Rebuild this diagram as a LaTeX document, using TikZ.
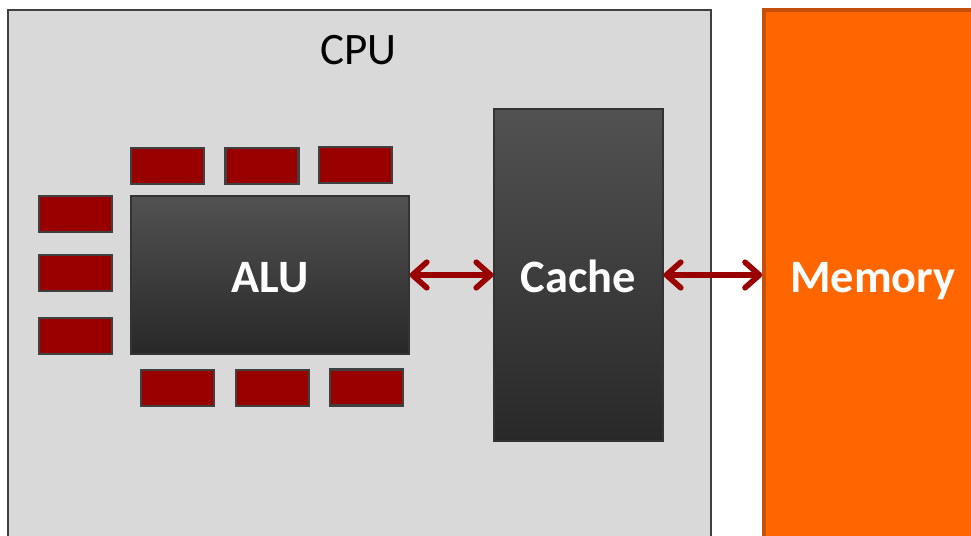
\documentclass[tikz,border=0pt]{standalone}
\usepackage{fontspec}
\setmainfont{Carlito}
\usetikzlibrary{arrows.meta}
\definecolor{chip}{RGB}{217,217,217}
\definecolor{edge}{RGB}{64,64,64}
\definecolor{regred}{RGB}{153,0,0}
\definecolor{mem}{RGB}{255,102,0}
\definecolor{memedge}{RGB}{197,80,10}
\definecolor{unittop}{RGB}{82,82,82}
\definecolor{unitbot}{RGB}{40,40,40}
\begin{document}
\begin{tikzpicture}[x=0.025cm,y=-0.025cm,font=\fontsize{32}{38}\selectfont]
\tikzset{regbox/.style={draw=edge,fill=regred,line width=1.5pt,inner sep=0pt,minimum width=1.825cm,minimum height=0.9cm},
  unit/.style={draw=black!80,line width=0.8pt,top color=unittop,bottom color=unitbot,text=white,font=\fontsize{33}{38}\selectfont\bfseries,inner sep=0pt,text height=25.5pt,text depth=0pt},
  arr/.style={{Straight Barb[length=3.6mm,width=6.4mm,line cap=round,line join=round]}-{Straight Barb[length=3.6mm,width=6.4mm,line cap=round,line join=round]},line width=4pt,draw=regred}}
\useasboundingbox (0,0) rectangle (971,536);
\node[draw=edge,fill=chip,line width=1.5pt,minimum width=17.575cm,minimum height=13.75cm] (cpu) at (359.5,285) {};
\node (cpulbl) at (358.5,50) {CPU};
\node[draw=memedge,fill=mem,line width=2.5pt,minimum width=5.45cm,minimum height=13.35cm,text=white,font=\fontsize{33}{38}\selectfont\bfseries,text depth=0pt] (mem) at (873,277) {Memory};
\node[unit,minimum width=6.95cm,minimum height=3.95cm] (alu) at (270,275) {ALU};
\node[unit,minimum width=4.225cm,minimum height=8.3cm] (cache) at (578.5,275) {Cache};
% registers round the ALU
\node[regbox] (t1) at (167.5,166) {};
\node[regbox] (t2) at (262,166) {};
\node[regbox] (t3) at (355.5,165) {};
\node[regbox] (l1) at (75.5,214) {};
\node[regbox] (l2) at (75.5,273) {};
\node[regbox] (l3) at (75.5,336) {};
\node[regbox] (b1) at (177.5,388) {};
\node[regbox] (b2) at (272.5,388) {};
\node[regbox] (b3) at (366.5,387.5) {};
\draw[arr] (alu.east)--(cache.west);
\draw[arr] (cache.east)--(cache.east -| mem.west);
\end{tikzpicture}
\end{document}
